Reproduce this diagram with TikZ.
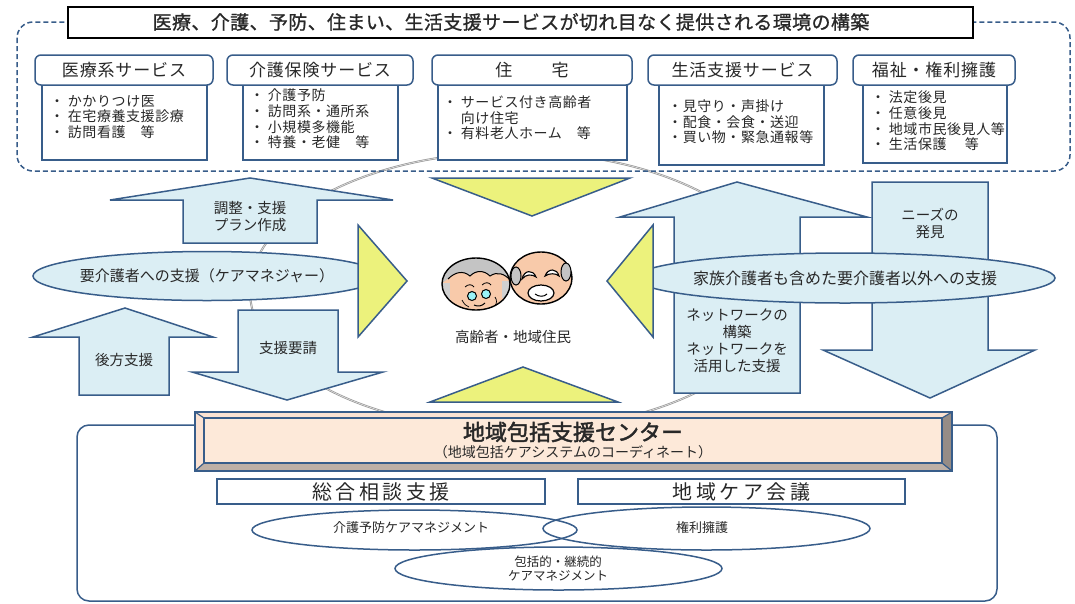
\documentclass[tikz,border=0pt]{standalone}
\usepackage{fontspec}
\setmainfont{Noto Sans CJK JP}[AutoFakeBold=2]
\newfontfamily\headlinefont{Noto Sans CJK JP}[FakeBold=1]
\usetikzlibrary{shapes.geometric}
\definecolor{bdcol}{RGB}{56,93,138}
\definecolor{ablue}{RGB}{219,238,244}
\definecolor{ylw}{RGB}{236,242,124}
\definecolor{peach}{RGB}{253,233,217}
\definecolor{peachlt}{RGB}{251,226,210}
\definecolor{bevgray}{RGB}{190,176,166}
\definecolor{bevdark}{RGB}{150,140,134}
\definecolor{skin}{RGB}{248,202,170}
\definecolor{hair}{RGB}{196,196,196}
\definecolor{ringgray}{RGB}{150,150,150}
\definecolor{txt}{RGB}{40,40,40}
\begin{document}
\begin{tikzpicture}[x=1pt,y=-1pt,
  bd/.style={draw=bdcol,line width=1.5pt},
  hdr/.style={bd,fill=white,rounded corners=6pt},
  body/.style={bd,fill=white},
  hdrtext/.style={font=\fontsize{17}{19}\selectfont\addfontfeature{LetterSpace=5},text=txt,inner sep=0pt},
  list/.style={font=\fontsize{14}{15.6}\selectfont\addfontfeature{LetterSpace=4},align=left,anchor=west,text=txt,inner sep=0pt},
  blockarrow/.style={bd,fill=ablue,line join=miter},
  tri/.style={bd,fill=ylw,line join=miter},
  lbl/.style={font=\fontsize{14.5}{17}\selectfont,align=center,text=txt,inner sep=0pt},
  oval/.style={ellipse,bd,inner sep=0pt},
  plainbox/.style={bd,fill=white},
]
\useasboundingbox (0,0) rectangle (1075,603);
\fill[white] (0,0) rectangle (1075,603);

% large ring around the residents
\draw[ringgray,line width=2pt] (515,291) ellipse [x radius=265pt,y radius=139pt];
\draw[white!80!gray,line width=0.6pt] (515,291) ellipse [x radius=265pt,y radius=139pt];

% dashed frame of the service area
\draw[bd,dashed,dash pattern=on 5pt off 3pt,rounded corners=16pt] (17,22) rectangle (1070,171);

% headline
\node[draw=black,line width=1.2pt,fill=white,minimum width=905pt,minimum height=31pt,inner sep=0pt] (title) at (520.5,22.5) {};
\node[font=\headlinefont\fontsize{19}{21}\selectfont\addfontfeature{LetterSpace=2},text=txt] (titletext) at (511,22) {医療、介護、予防、住まい、生活支援サービスが切れ目なく提供される環境の構築};

% service boxes: body then header
\draw[body] (42,80) rectangle (207,160);
\draw[hdr] (35,55) rectangle (213,85);
\node[hdrtext] (h1) at (124,70) {医療系サービス};
\node[list] (b1) at (50,117) {・ かかりつけ医\\・ 在宅療養支援診療\\・ 訪問看護　等};

\draw[body] (243,80) rectangle (398,160);
\draw[hdr] (227,55) rectangle (413,85);
\node[hdrtext] (h2) at (320,70) {介護保険サービス};
\node[list] (b2) at (250,119) {・ 介護予防\\・ 訪問系・通所系\\・ 小規模多機能\\・ 特養・老健　等};

\draw[body] (438,80) rectangle (627,160);
\draw[hdr] (432,55) rectangle (632,85);
\node[hdrtext] (h3) at (532,70) {住\hspace{2.3em}宅};
\node[list] (b3) at (443,118) {・ サービス付き高齢者\\\phantom{・ }向け住宅\\・ 有料老人ホーム　等};

\draw[body] (659,80) rectangle (824,165);
\draw[hdr] (648,55) rectangle (837,85);
\node[hdrtext] (h4) at (742.5,70) {生活支援サービス};
\node[list] (b4) at (668,122) {・見守り・声掛け\\・配食・会食・送迎\\・買い物・緊急通報等};

\draw[body] (863,80) rectangle (1007,163);
\draw[hdr] (853,55) rectangle (1015,85);
\node[hdrtext] (h5) at (934,70) {福祉・権利擁護};
\node[list] (b5) at (871,121) {・ 法定後見\\・ 任意後見\\・ 地域市民後見人等\\・ 生活保護　 等};

% left side block arrows
\draw[blockarrow] (250,178) -- (393,200) -- (317,200) -- (317,243) -- (183,243) -- (183,200) -- (110,200) -- cycle;
\node[lbl] (adjust) at (250,217) {調整・支援\\プラン作成};
\draw[blockarrow] (125,308) -- (213,337) -- (169,337) -- (169,395) -- (79,395) -- (79,337) -- (33,337) -- cycle;
\node[lbl] (backup) at (124,360) {後方支援};
\draw[blockarrow] (238,310) -- (338,310) -- (338,372) -- (383,372) -- (287,400) -- (192,372) -- (238,372) -- cycle;
\node[lbl] (request) at (288,348) {支援要請};
\node[oval,fill=ablue,minimum width=348pt,minimum height=49pt] (cm) at (207,276) {};
\node[lbl,font=\fontsize{15}{17}\selectfont] (cmtext) at (cm) {要介護者への支援（ケアマネジャー）};

% right side block arrows
\draw[blockarrow] (737,182) -- (867,217) -- (800,217) -- (800,393) -- (674,393) -- (674,217) -- (620,217) -- cycle;
\node[lbl] (network) at (737,341) {ネットワークの\\構築\\ネットワークを\\活用した支援};
\draw[blockarrow] (872,182) -- (988,182) -- (988,350) -- (1035,350) -- (930,398) -- (823,350) -- (872,350) -- cycle;
\node[lbl] (needs) at (930,223) {ニーズの\\発見};
\node[oval,fill=ablue,minimum width=420pt,minimum height=50pt] (family) at (845,278) {};
\node[lbl,font=\fontsize{16}{18}\selectfont] (familytext) at (family) {家族介護者も含めた要介護者以外への支援};

% yellow pointers toward the residents
\draw[tri] (432,178) -- (630,178) -- (532,216) -- cycle;
\draw[tri] (523,367) -- (618,402) -- (430,402) -- cycle;
\draw[tri] (358,225) -- (407,281) -- (358,337) -- cycle;
\draw[tri] (653,225) -- (607,281) -- (653,337) -- cycle;

% elderly couple
\begin{scope}[line width=1.4pt]
  % man
  \draw[fill=skin] (541,278) ellipse [x radius=31pt,y radius=26pt];
  \draw[fill=hair,line width=1pt] (516,276) ellipse [x radius=5pt,y radius=9pt];
  \draw[fill=hair,line width=1pt] (566,272) ellipse [x radius=5pt,y radius=9pt];
  \draw[fill=white,line width=1.1pt] (522,279) .. controls (524,270) and (533,269) .. (536,277) .. controls (532,274) and (526,274) .. cycle;
  \draw[fill=white,line width=1.1pt] (545,276) .. controls (548,268) and (557,268) .. (559,276) .. controls (556,273) and (549,273) .. cycle;
  \draw[fill=white,line width=1.2pt] (541,293) ellipse [x radius=13pt,y radius=8pt];
  \draw[line width=1pt] (535,294) .. controls (539,297) and (544,297) .. (547,294);
  % woman
  \begin{scope}
    \clip (476,284) ellipse [x radius=34pt,y radius=26pt];
    \fill[skin] (440,255) rectangle (512,312);
    \fill[hair] (440,255) -- (512,255) -- (512,282) .. controls (505,274) and (497,271) .. (490,276)
      .. controls (484,270) and (476,270) .. (470,276) .. controls (463,270) and (455,272) .. (448,279)
      -- (440,284) -- cycle;
    \fill[hair!80!white] (440,283) rectangle (450,300);
    \fill[hair!80!white] (502,281) rectangle (512,298);
  \end{scope}
  \draw (476,284) ellipse [x radius=34pt,y radius=26pt];
  \draw[line width=1pt] (448,279) .. controls (455,272) and (463,270) .. (470,276)
    .. controls (476,270) and (484,270) .. (490,276) .. controls (497,271) and (505,274) .. (510,280);
  \draw[fill=ablue!70!cyan,line width=1pt] (472,296) circle [radius=4.5pt];
  \draw[fill=ablue!70!cyan,line width=1pt] (486,294) circle [radius=4.5pt];
  \draw[line width=0.8pt] (465,287) .. controls (468,284) and (472,284) .. (474,287);
  \draw[line width=0.8pt] (482,285) .. controls (485,282) and (489,282) .. (491,285);
  \draw[line width=1pt] (474,305) .. controls (478,307) and (482,306) .. (485,303);
  \draw[line width=0.7pt] (462,300) .. controls (464,304) and (466,306) .. (469,307);
  \draw[line width=0.7pt] (495,297) .. controls (497,300) and (497,303) .. (495,306);
\end{scope}
\node[lbl,font=\fontsize{14.5}{17}\selectfont] (residents) at (513,337) {高齢者・地域住民};

% community support centre
\draw[bd,rounded corners=12pt] (77,425) rectangle (997,601);
\fill[peachlt] (195,412) -- (952,412) -- (942,418) -- (204,418) -- cycle;
\fill[peachlt] (195,412) -- (204,418) -- (204,463) -- (195,471) -- cycle;
\fill[bevgray] (195,471) -- (952,471) -- (942,463) -- (204,463) -- cycle;
\fill[bevdark] (952,412) -- (952,471) -- (942,463) -- (942,418) -- cycle;
\draw[draw=bdcol,line width=1.2pt,line join=miter] (195,412) -- (204,418) (952,412) -- (942,418) (195,471) -- (204,463) (952,471) -- (942,463);
\draw[bd,fill=peach] (204,418) rectangle (942,463);
\draw[bd] (195,412) rectangle (952,471);
\node[font=\bfseries\fontsize{22}{24}\selectfont,text=txt,inner sep=0pt] (hub) at (573,432) {地域包括支援センター};
\node[font=\fontsize{14}{16}\selectfont,text=txt,inner sep=0pt] (hubsub) at (573,452) {（地域包括ケアシステムのコーディネート）};

\draw[plainbox] (217,479) rectangle (545,504);
\node[font=\fontsize{20}{22}\selectfont\addfontfeature{LetterSpace=18},text=txt,inner sep=0pt] (consult) at (381,491.5) {総合相談支援};
\draw[plainbox] (578,479) rectangle (905,504);
\node[font=\fontsize{20}{22}\selectfont\addfontfeature{LetterSpace=18},text=txt,inner sep=0pt] (meeting) at (741.5,491.5) {地域ケア会議};

\node[oval,minimum width=325pt,minimum height=40pt] (prev) at (414.5,530) {};
\node[oval,minimum width=327pt,minimum height=43pt] (rights) at (706.5,528.5) {};
\node[oval,minimum width=327pt,minimum height=43pt] (cont) at (558.5,568.5) {};
\node[lbl,font=\fontsize{13}{15}\selectfont] (prevtext) at (411,528) {介護予防ケアマネジメント};
\node[lbl,font=\fontsize{13}{15}\selectfont] (rightstext) at (702,528) {権利擁護};
\node[lbl,font=\fontsize{12.5}{14}\selectfont] (conttext) at (558,568.5) {包括的・継続的\\ケアマネジメント};
\end{tikzpicture}
\end{document}
